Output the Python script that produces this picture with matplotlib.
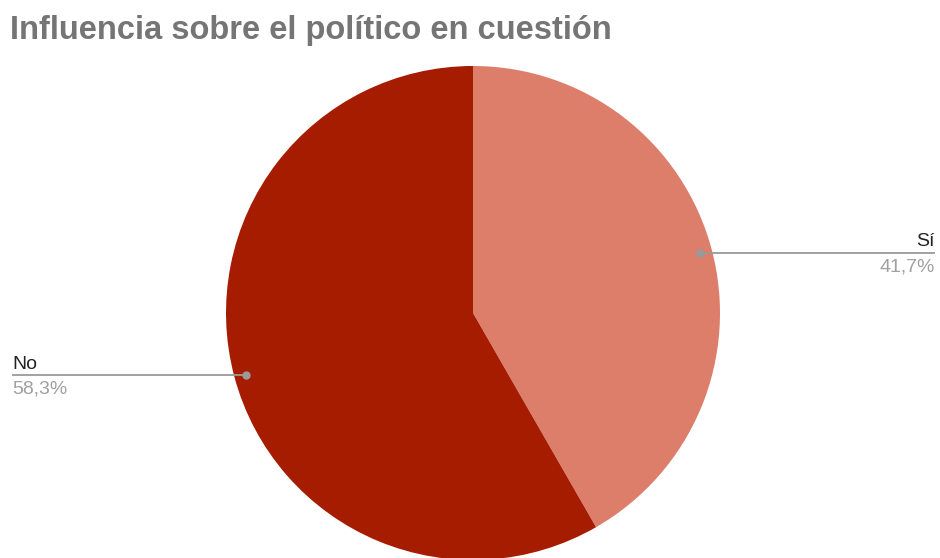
import matplotlib
matplotlib.use('Agg')
import matplotlib.pyplot as plt

# answers and their share of responses
labels = ['Sí', 'No']
shares = [41.7, 58.3]
pct_text = ['41,7%', '58,3%']
colors = ['#dd7e6b', '#a61c00']

plt.rcParams['font.family'] = ['Liberation Sans', 'DejaVu Sans']

W, H = 940, 558
fig = plt.figure(figsize=(W / 100, H / 100), dpi=100)
ax = fig.add_axes([0, 0, 1, 1])

# pie centre / radius in pixel units (y measured from the bottom)
cx, cy, r = 473, H - 313, 247
ax.pie(shares, colors=colors, startangle=90, counterclock=False,
       center=(cx, cy), radius=r, frame=True,
       wedgeprops=dict(linewidth=0))
ax.set_xlim(0, W)
ax.set_ylim(0, H)
ax.set_aspect('equal')
ax.axis('off')

fig.text(10 / W, 1 - 39 / H, 'Influencia sobre el político en cuestión',
         fontsize=23.5, fontweight='bold', color='#757575', ha='left', va='baseline')

line_col = '#9a9a9a'
lab_col = '#222222'
pct_col = '#a0a0a0'
fs = 14

# Sí -> right side
y = H - 253
ax.plot([700, 935], [y, y], color=line_col, lw=1.3, solid_capstyle='butt')
ax.plot([700], [y], 'o', color=line_col, ms=5)
ax.text(935, H - 246, labels[0], fontsize=fs, color=lab_col, ha='right', va='baseline')
ax.text(935, H - 272, pct_text[0], fontsize=fs, color=pct_col, ha='right', va='baseline')

# No -> left side
y = H - 375
ax.plot([12, 246], [y, y], color=line_col, lw=1.3, solid_capstyle='butt')
ax.plot([246], [y], 'o', color=line_col, ms=5)
ax.text(12, H - 369, labels[1], fontsize=fs, color=lab_col, ha='left', va='baseline')
ax.text(12, H - 394, pct_text[1], fontsize=fs, color=pct_col, ha='left', va='baseline')

fig.savefig('out.png', dpi=100)
